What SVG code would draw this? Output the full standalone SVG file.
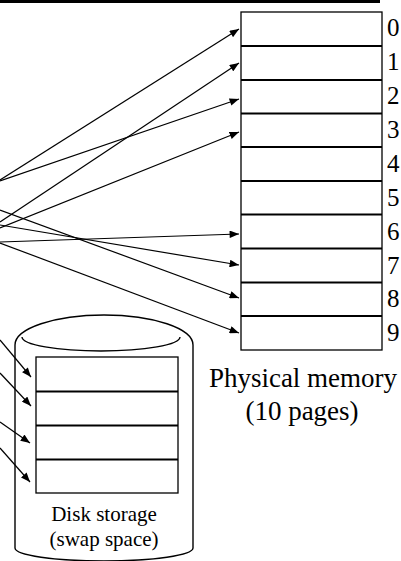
<svg xmlns="http://www.w3.org/2000/svg" width="401" height="561" viewBox="0 0 401 561">
  <style>
    .box { fill: #ffffff; stroke: #000000; stroke-width: 1.3; }
    .div { stroke: #000000; stroke-width: 2; }
    .lbl { font-family: "Liberation Serif", "Times New Roman", serif; fill: #000000; }
    .link { stroke: #000000; stroke-width: 1.2; fill: none; marker-end: url(#head); }
    .cyl { fill: #ffffff; stroke: #000000; stroke-width: 1.4; }
  </style>
  <defs>
    <marker id="head" markerUnits="userSpaceOnUse" viewBox="0 0 10 8" markerWidth="10" markerHeight="7.5" refX="10" refY="4" orient="auto">
      <path d="M0,0 L10,4 L0,8 z" fill="#000000"/>
    </marker>
  </defs>

  <rect width="401" height="561" fill="#ffffff"/>

  <!-- heavy rule along the top -->
  <rect x="0" y="0" width="380" height="3" fill="#000000"/>

  <!-- physical memory: ten page frames -->
  <g id="physical-memory">
    <rect class="box" x="241" y="12" width="141" height="338"/>
    <line class="div" x1="241" y1="46" x2="382" y2="46"/>
    <line class="div" x1="241" y1="80" x2="382" y2="80"/>
    <line class="div" x1="241" y1="113.5" x2="382" y2="113.5"/>
    <line class="div" x1="241" y1="147" x2="382" y2="147"/>
    <line class="div" x1="241" y1="181" x2="382" y2="181"/>
    <line class="div" x1="241" y1="214.5" x2="382" y2="214.5"/>
    <line class="div" x1="241" y1="248.5" x2="382" y2="248.5"/>
    <line class="div" x1="241" y1="282.5" x2="382" y2="282.5"/>
    <line class="div" x1="241" y1="316" x2="382" y2="316"/>
    <g class="lbl" font-size="25">
      <text x="387" y="36">0</text>
      <text x="387" y="70">1</text>
      <text x="387" y="104">2</text>
      <text x="387" y="138">3</text>
      <text x="387" y="172">4</text>
      <text x="387" y="206">5</text>
      <text x="387" y="240">6</text>
      <text x="387" y="274">7</text>
      <text x="387" y="307">8</text>
      <text x="387" y="341">9</text>
    </g>
  </g>

  <g id="memory-caption" class="lbl" font-size="27" text-anchor="middle">
    <text x="303" y="387">Physical memory</text>
    <text x="302" y="420">(10 pages)</text>
  </g>

  <!-- disk cylinder holding the swapped-out pages -->
  <g id="disk-storage">
    <path class="cyl" d="M15,345 A89,30 0 0 1 193,345 L193,548 A89,13 0 0 1 15,548 Z"/>
    <path class="cyl" fill="none" d="M22,337 A79,14 0 0 0 180,337"/>
    <rect class="box" x="36" y="357" width="142" height="136"/>
    <line class="div" x1="36" y1="391.5" x2="178" y2="391.5"/>
    <line class="div" x1="36" y1="425.5" x2="178" y2="425.5"/>
    <line class="div" x1="36" y1="459.5" x2="178" y2="459.5"/>
    <g class="lbl" font-size="21" text-anchor="middle">
      <text x="104" y="521">Disk storage</text>
      <text x="104" y="546">(swap space)</text>
    </g>
  </g>

  <!-- page mappings -->
  <g id="connectors">
    <line class="link" x1="0" y1="180" x2="239" y2="29"/>
    <line class="link" x1="0" y1="222" x2="239" y2="63"/>
    <line class="link" x1="0" y1="181" x2="239" y2="99"/>
    <line class="link" x1="0" y1="228" x2="239" y2="132"/>
    <line class="link" x1="0" y1="242" x2="239" y2="234"/>
    <line class="link" x1="0" y1="225" x2="239" y2="265"/>
    <line class="link" x1="0" y1="210" x2="239" y2="298"/>
    <line class="link" x1="0" y1="243" x2="239" y2="333"/>
    <line class="link" x1="0" y1="340" x2="31" y2="377"/>
    <line class="link" x1="0" y1="373" x2="31" y2="406"/>
    <line class="link" x1="0" y1="422" x2="30" y2="443"/>
    <line class="link" x1="0" y1="448" x2="30" y2="482"/>
  </g>
</svg>
